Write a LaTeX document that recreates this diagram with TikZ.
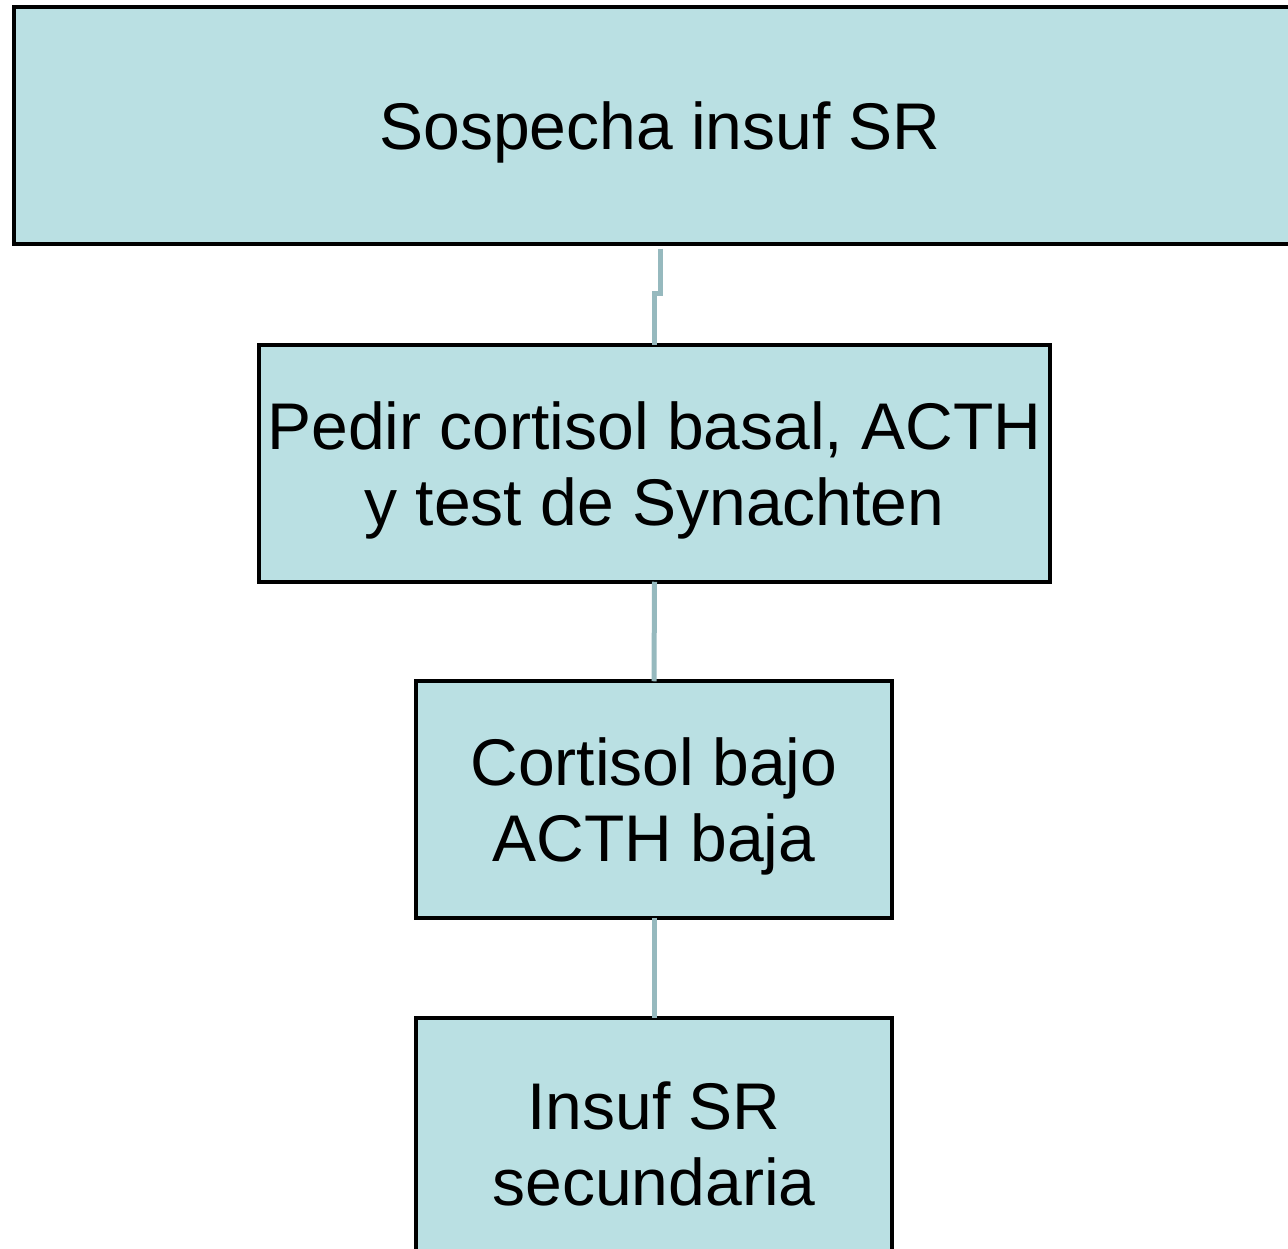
\documentclass[tikz,border=0pt]{standalone}
\usepackage{fontspec}
\setmainfont{Liberation Sans}
\definecolor{boxfill}{RGB}{186,224,227}
\definecolor{linkcol}{RGB}{150,185,190}
\begin{document}
\begin{tikzpicture}[x=1pt,y=-1pt,
  stepbox/.style={draw=black,line width=4.5pt,fill=boxfill,rectangle,inner sep=0pt,minimum height=237pt},
  boxtext/.style={inner sep=0pt,align=center,yshift=-7pt,font=\fontsize{66}{76}\selectfont},
  link/.style={draw=linkcol,line width=5pt}]
\useasboundingbox (0,0) rectangle (1288,1249);
\clip (0,0) rectangle (1288,1249);
\node[stepbox,minimum width=1292pt,label={[boxtext]center:Sospecha insuf SR}] (a) at (660,125.5) {};
\node[stepbox,minimum width=791pt,label={[boxtext]center:Pedir cortisol basal, ACTH\\y test de Synachten}] (b) at (654.5,463.5) {};
\node[stepbox,minimum width=476pt,label={[boxtext]center:Cortisol bajo\\ACTH baja}] (c) at (654,799.5) {};
\node[stepbox,minimum width=476pt,label={[boxtext]center:Insuf SR\\secundaria}] (d) at (654,1136.5) {};
\coordinate (j1) at (660,294);
\coordinate (j2) at (654.5,294);
\draw[link] (a.south) ++(0,2.5) -- (j1) -- (j2) -- ([yshift=-2.5pt]b.north);
\draw[link] ([yshift=2.5pt]b.south) -- ([yshift=-2.5pt]c.north);
\draw[link] ([yshift=2.5pt]c.south) -- ([yshift=-2.5pt]d.north);
\end{tikzpicture}
\end{document}
